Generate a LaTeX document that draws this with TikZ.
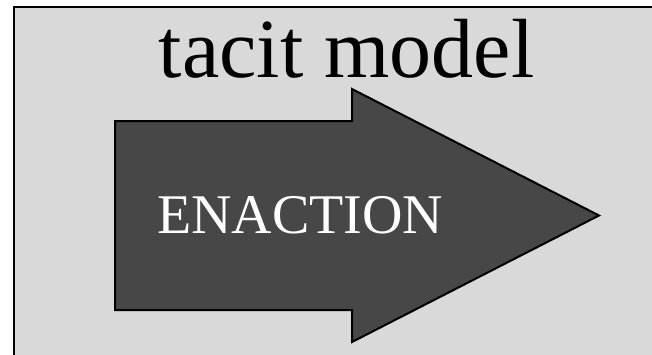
\documentclass[tikz,border=0pt]{standalone}
\usepackage{fontspec}
\setmainfont{Liberation Serif}
\definecolor{bggray}{HTML}{D9D9D9}
\definecolor{arrowgray}{HTML}{474747}
\tikzset{
  panel/.style={fill=bggray, draw=black, line width=2pt},
  bigarrow/.style={fill=arrowgray, draw=black, line width=2pt, line join=miter},
  titletext/.style={font=\fontsize{84}{90}\selectfont, text=black, inner sep=0pt, anchor=base},
  labeltext/.style={font=\fontsize{56}{60}\selectfont, text=white, inner sep=0pt, anchor=base west},
}
\begin{document}
\begin{tikzpicture}[x=1pt,y=1pt]
\useasboundingbox (0,0) rectangle (652,354);
\clip (0,0) rectangle (652,354);
\draw[panel] (14,347) rectangle (670,-10);
\coordinate (a1) at (115,233);
\coordinate (a2) at (352,233);
\coordinate (a3) at (352,265);
\coordinate (tip) at (599,138.5);
\coordinate (a5) at (352,12);
\coordinate (a6) at (352,44);
\coordinate (a7) at (115,44);
\draw[bigarrow] (a1) -- (a2) -- (a3) -- (tip) -- (a5) -- (a6) -- (a7) -- cycle;
\node[titletext] (title) at (346.5,276) {tacit model};
\node[labeltext] (enaction) at (157,121) {ENACTION};
\end{tikzpicture}
\end{document}
